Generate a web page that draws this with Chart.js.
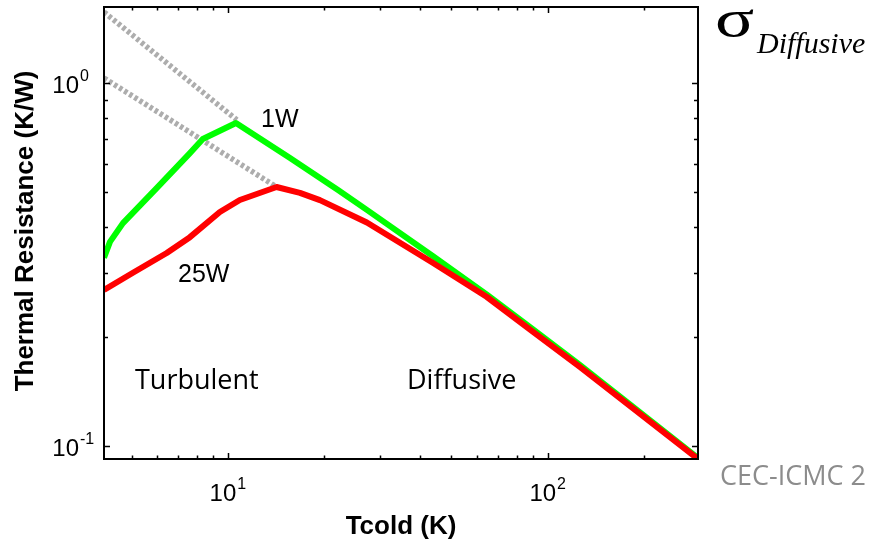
<!DOCTYPE html>
<html>
<head>
<meta charset="utf-8">
<script src="https://cdn.jsdelivr.net/npm/chart.js@4.4.0/dist/chart.umd.min.js"></script>
<style>
  html, body { margin: 0; padding: 0; background: #fff; }
  #wrap { width: 872px; height: 541px; }
</style>
</head>
<body>
<div id="wrap"><canvas id="resChart" width="872" height="541"></canvas></div>
<script>
// Tcold (K) and thermal resistance (K/W) at 1 W and 25 W heat load
const tcold1W = [4.1, 4.28, 4.7, 6.0, 7.61, 8.35, 10.6, 15.6, 22.1, 27.2, 43.7, 64.4, 90, 126, 295];
const res1W   = [0.330, 0.365, 0.411, 0.514, 0.641, 0.701, 0.776, 0.6225, 0.5072, 0.4471, 0.3337, 0.2615, 0.2095, 0.1672, 0.0925];
const tcold25W = [4.1, 5.05, 6.44, 7.61, 9.44, 10.9, 14.2, 16.8, 19.4, 27.2, 43.7, 64.4, 90, 126, 295];
const res25W   = [0.269, 0.300, 0.340, 0.376, 0.441, 0.476, 0.517, 0.498, 0.4755, 0.4125, 0.3197, 0.2576, 0.2062, 0.1650, 0.0920];

// diffusive trend carried back into the turbulent region (dotted)
const tcoldAsym1W = [4.1, 10.67];
const resAsym1W   = [1.569, 0.791];
const tcoldAsym25W = [4.1, 14.2];
const resAsym25W   = [1.032, 0.517];

const xRange = [4.1, 295];
const yRange = [0.092, 1.62];
const xMajorTicks = [10, 100];
const yMajorTicks = [0.1, 1];

const toPoints = (xs, ys) => xs.map((x, i) => ({ x: x, y: ys[i] }));

const frameAndLabels = {
  id: "frameAndLabels",
  afterDraw(chart) {
    const ctx = chart.ctx;
    const area = chart.chartArea;
    const xs = chart.scales.x;
    const ys = chart.scales.y;

    ctx.save();
    ctx.strokeStyle = "#000";
    ctx.lineWidth = 2;
    ctx.strokeRect(area.left, area.top, area.right - area.left, area.bottom - area.top);

    // inward tick marks on all four sides, taken from the log scale's own ticks
    const isNice = v => {
      const m = v / Math.pow(10, Math.floor(Math.log10(v) + 1e-9));
      return Math.abs(m - Math.round(m)) < 1e-6 ? Math.round(m) : 0;
    };
    ctx.lineWidth = 1.5;
    ctx.beginPath();
    xs.ticks.forEach(t => {
      const m = isNice(t.value);
      if (!m) return;
      const px = Math.round(xs.getPixelForValue(t.value)) + 0.5;
      if (px <= area.left + 1 || px >= area.right - 1) return;
      const len = m === 1 ? 6 : 3.5;
      ctx.moveTo(px, area.bottom); ctx.lineTo(px, area.bottom - len);
      ctx.moveTo(px, area.top); ctx.lineTo(px, area.top + len);
    });
    ys.ticks.forEach(t => {
      const m = isNice(t.value);
      if (!m) return;
      const py = Math.round(ys.getPixelForValue(t.value)) + 0.5;
      if (py <= area.top + 1 || py >= area.bottom - 1) return;
      const len = m === 1 ? 6 : 4;
      ctx.moveTo(area.left, py); ctx.lineTo(area.left + len, py);
      ctx.moveTo(area.right, py); ctx.lineTo(area.right - len, py);
    });
    ctx.stroke();

    // power-of-ten labels
    ctx.fillStyle = "#000";
    ctx.textBaseline = "alphabetic";
    const baseFont = "24px 'Liberation Sans', Arial, sans-serif";
    const expFont = "16px 'Liberation Sans', Arial, sans-serif";
    xMajorTicks.forEach(v => {
      const px = xs.getPixelForValue(v);
      const exp = String(Math.round(Math.log10(v)));
      ctx.font = baseFont;
      const wb = ctx.measureText("10").width;
      ctx.font = expFont;
      const we = ctx.measureText(exp).width;
      const x0 = px - (wb + we + 1) / 2;
      ctx.font = baseFont;
      ctx.textAlign = "left";
      ctx.fillText("10", x0, area.bottom + 42);
      ctx.font = expFont;
      ctx.fillText(exp, x0 + wb + 1, area.bottom + 30);
    });
    yMajorTicks.forEach(v => {
      const py = ys.getPixelForValue(v);
      const exp = String(Math.round(Math.log10(v)));
      ctx.font = baseFont;
      ctx.textAlign = "right";
      ctx.fillText("10", 79, py + 10);
      ctx.font = expFont;
      ctx.textAlign = "left";
      ctx.fillText(exp, 80, py - 2);
    });

    // axis titles
    ctx.font = "bold 26px 'Liberation Sans', Arial, sans-serif";
    ctx.textAlign = "center";
    ctx.fillText("Tcold (K)", (area.left + area.right) / 2, 534);
    ctx.save();
    ctx.translate(33, 231);
    ctx.rotate(-Math.PI / 2);
    ctx.fillText("Thermal Resistance (K/W)", 0, 0);
    ctx.restore();

    // curve and regime annotations
    ctx.textAlign = "left";
    ctx.font = "25px 'Liberation Sans', Arial, sans-serif";
    ctx.fillText("1W", 261, 127);
    ctx.fillText("25W", 178, 282);
    ctx.font = "27px 'Open Sans', sans-serif";
    ctx.fillText("Turbulent", 135, 389);
    ctx.fillText("Diffusive", 407, 389);
    ctx.fillStyle = "#8c8c8c";
    ctx.fillText("CEC-ICMC 2", 720, 485);

    ctx.fillStyle = "#000";
    ctx.save();
    ctx.translate(715, 36);
    ctx.scale(1.4, 1);
    ctx.font = "52px 'Liberation Serif', 'DejaVu Serif', serif";
    ctx.fillText("\u03c3", 0, 0);
    ctx.restore();
    ctx.font = "italic 30px 'Liberation Serif', 'DejaVu Serif', serif";
    ctx.fillText("Diffusive", 757, 53);
    ctx.restore();
  }
};

const lineStyle = (color, width) => ({
  borderColor: color,
  borderWidth: width,
  pointRadius: 0,
  tension: 0,
  fill: false,
  clip: 0,
  borderJoinStyle: "round"
});

new Chart(document.getElementById("resChart").getContext("2d"), {
  type: "line",
  data: {
    datasets: [
      Object.assign({ label: "25W", data: toPoints(tcold25W, res25W) }, lineStyle("#ff0000", 6)),
      Object.assign({ label: "1W", data: toPoints(tcold1W, res1W) }, lineStyle("#00ff00", 6)),
      Object.assign({ label: "1W diffusive", data: toPoints(tcoldAsym1W, resAsym1W), borderDash: [3.5, 2.5] }, lineStyle("#adadad", 5.5)),
      Object.assign({ label: "25W diffusive", data: toPoints(tcoldAsym25W, resAsym25W), borderDash: [3.5, 2.5] }, lineStyle("#adadad", 5.5))
    ]
  },
  options: {
    responsive: false,
    animation: false,
    devicePixelRatio: 1,
    layout: { padding: { left: 104, top: 7, right: 174, bottom: 82 } },
    plugins: { legend: { display: false }, tooltip: { enabled: false } },
    scales: {
      x: { type: "logarithmic", min: xRange[0], max: xRange[1], display: false },
      y: { type: "logarithmic", min: yRange[0], max: yRange[1], display: false }
    }
  },
  plugins: [frameAndLabels]
});
</script>
</body>
</html>
